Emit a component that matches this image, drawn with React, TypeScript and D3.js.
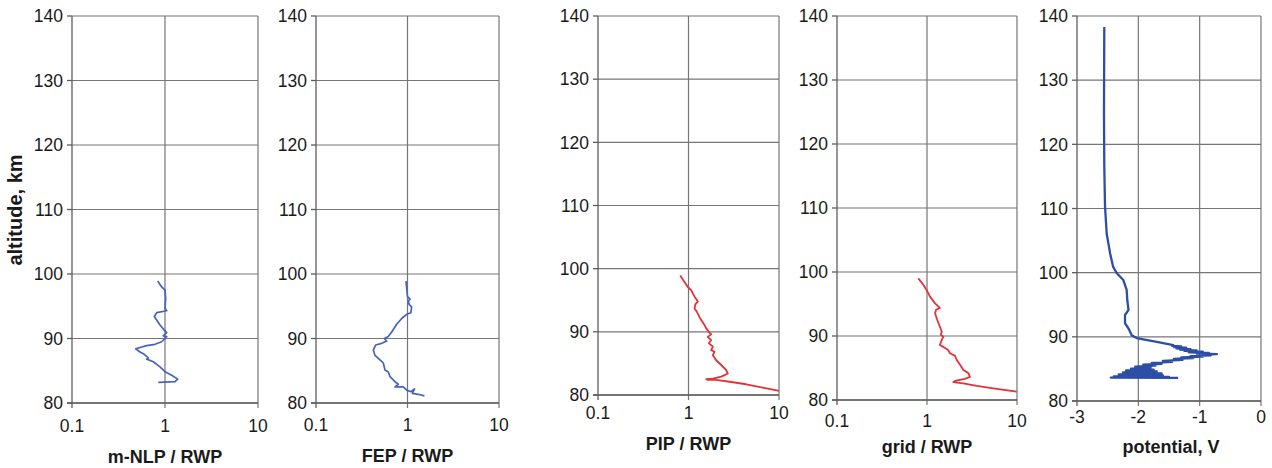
import React from "react";
import * as d3 from "d3";

// ---------- data ----------
const altTicks = [80, 90, 100, 110, 120, 130, 140];
const logTicks = [0.1, 1, 10];
const logTickLabels = ["0.1", "1", "10"];
const potTicks = [-3, -2, -1, 0];
const potTickLabels = ["-3", "-2", "-1", "0"];

const mnlpAlt = [98.9, 98.0, 97.5, 96.2, 94.7, 94.3, 94.0, 93.4, 92.1, 91.3, 90.9, 90.4, 90.3, 89.5, 89.1, 88.9, 88.6, 88.4, 87.9, 87.55, 87.0, 86.8, 86.4, 85.6, 84.85, 84.3, 83.7, 83.3, 83.2];
const mnlpRatio = [0.835, 0.921, 1.0, 1.017, 1.0, 1.043, 0.814, 0.767, 0.884, 0.983, 1.043, 0.959, 1.043, 0.921, 0.781, 0.636, 0.539, 0.484, 0.539, 0.599, 0.662, 0.636, 0.748, 0.884, 1.0, 1.18, 1.37, 1.28, 0.847];

const fepAlt = [98.9, 97.8, 96.5, 96.1, 95.8, 95.3, 94.9, 94.0, 93.75, 93.1, 92.2, 91.0, 90.3, 90.0, 89.6, 89.25, 89.0, 88.2, 87.4, 86.7, 86.2, 85.1, 84.8, 84.1, 83.3, 82.9, 82.5, 82.5, 82.0, 81.75, 82.2, 81.5, 81.35, 81.1];
const fepRatio = [0.963, 0.98, 1.0, 1.065, 1.02, 1.04, 1.11, 1.09, 0.98, 0.864, 0.762, 0.672, 0.617, 0.558, 0.593, 0.523, 0.449, 0.423, 0.441, 0.5, 0.544, 0.568, 0.617, 0.644, 0.73, 0.794, 0.73, 0.9, 0.98, 1.09, 1.19, 1.13, 1.31, 1.53];

const pipAlt = [98.9, 97.9, 97.1, 96.6, 96.1, 95.6, 94.8, 94.4, 93.7, 93.2, 92.1, 91.1, 90.55, 90.0, 89.6, 89.2, 88.7, 88.2, 87.65, 87.1, 86.85, 86.3, 85.5, 84.75, 83.95, 83.4, 82.9, 82.6, 82.5, 82.4, 82.4, 82.1, 81.7, 81.15, 80.65];
const pipRatio = [0.81, 0.903, 0.982, 1.07, 1.116, 1.165, 1.27, 1.195, 1.165, 1.235, 1.35, 1.5, 1.57, 1.68, 1.78, 1.63, 1.78, 1.68, 1.86, 1.78, 1.94, 1.86, 2.02, 2.3, 2.61, 2.72, 2.3, 1.86, 1.57, 1.63, 2.02, 2.84, 4.34, 6.62, 10.0];

const gridAlt = [99.0, 98.0, 97.2, 96.15, 95.1, 94.4, 94.1, 93.55, 92.5, 91.45, 90.7, 90.2, 89.9, 89.4, 88.6, 88.3, 87.8, 87.3, 86.9, 86.25, 85.5, 84.7, 84.2, 83.6, 83.3, 82.97, 82.8, 82.6, 82.2, 81.8, 81.3];
const gridRatio = [0.8, 0.91, 0.99, 1.08, 1.23, 1.39, 1.26, 1.23, 1.3, 1.39, 1.46, 1.42, 1.52, 1.46, 1.39, 1.52, 1.72, 1.8, 2.05, 2.14, 2.33, 2.53, 2.88, 3.0, 2.64, 2.05, 1.96, 2.53, 3.57, 5.45, 9.9];

const potAlt = [138.3, 125, 116.5, 110.3, 106.1, 103.0, 100.9, 99.9, 98.85, 97.3, 95.7, 94.2, 93.4, 92.1, 91.3, 90.25, 89.8, 89.2, 88.7,
  88.6, 88.5, 88.4, 88.3, 88.2, 88.1, 88.0, 87.9, 87.8, 87.7, 87.6, 87.5, 87.4, 87.3, 87.2, 87.1, 87.0, 86.9, 86.8, 86.7, 86.55, 86.4, 86.25, 86.1, 85.95, 85.8, 85.65, 85.5, 85.35, 85.2, 85.05, 84.9, 84.75, 84.6, 84.45, 84.3, 84.15, 84.0, 83.85, 83.75, 83.65, 83.6];
const potVolt = [-2.555, -2.56, -2.555, -2.543, -2.516, -2.46, -2.41, -2.35, -2.245, -2.19, -2.18, -2.16, -2.217, -2.217, -2.16, -2.108, -2.027, -1.7, -1.43,
  -1.45, -1.3, -1.42, -1.22, -1.38, -1.15, -1.32, -1.05, -1.25, -0.95, -1.18, -0.85, -1.05, -0.72, -1.0, -0.82, -1.15, -0.95, -1.3, -1.1, -1.42, -1.28, -1.6, -1.45, -1.78, -1.62, -1.92, -1.72, -2.05, -1.8, -2.12, -1.75, -2.2, -1.7, -2.25, -1.62, -2.32, -1.6, -2.4, -1.5, -2.45, -1.35];

// ---------- layout ----------
const FONT = "'Liberation Sans', Arial, Helvetica, sans-serif";
const BLUE = "#4565bb";
const DARKBLUE = "#2d4ea6";
const RED = "#e3333a";
const GRID = "#767676";
const AXIS = "#5e5e5e";
const TEXT = "#1a1a1a";

type Panel = {
  kind: "log" | "lin";
  left: number; right: number; top: number; bottom: number;
  tickY: number; titleY: number; title: string;
  color: string; width: number;
  alt: number[]; vals: number[];
};

const panels: Panel[] = [
  { kind: "log", left: 72, right: 258, top: 16, bottom: 403, tickY: 432, titleY: 463, title: "m-NLP / RWP", color: BLUE, width: 1.7, alt: mnlpAlt, vals: mnlpRatio },
  { kind: "log", left: 316, right: 499, top: 16, bottom: 403, tickY: 431, titleY: 462, title: "FEP / RWP", color: BLUE, width: 1.7, alt: fepAlt, vals: fepRatio },
  { kind: "log", left: 598, right: 779, top: 16, bottom: 395, tickY: 419, titleY: 450, title: "PIP / RWP", color: RED, width: 1.8, alt: pipAlt, vals: pipRatio },
  { kind: "log", left: 837, right: 1017, top: 16, bottom: 400, tickY: 427, titleY: 453, title: "grid / RWP", color: RED, width: 1.8, alt: gridAlt, vals: gridRatio },
  { kind: "lin", left: 1077, right: 1261, top: 16, bottom: 401, tickY: 423, titleY: 453, title: "potential, V", color: DARKBLUE, width: 2.3, alt: potAlt, vals: potVolt },
];

function PanelView({ p }: { p: Panel }) {
  const y = d3.scaleLinear().domain([80, 140]).range([p.bottom, p.top]);
  const isLog = p.kind === "log";
  const x: any = isLog
    ? d3.scaleLog().domain([0.1, 10]).range([p.left, p.right])
    : d3.scaleLinear().domain([-3, 0]).range([p.left, p.right]);
  const xt = isLog ? logTicks : potTicks;
  const xl = isLog ? logTickLabels : potTickLabels;
  const pts: [number, number][] = p.alt.map((a, i) => [p.vals[i], a]);
  const line = d3.line<[number, number]>().x((d) => x(d[0])).y((d) => y(d[1]));
  const mid = isLog ? x(1) : (p.left + p.right) / 2 + 2;
  return (
    <g>
      {altTicks.map((t) => (
        <line key={"h" + t} x1={p.left} x2={p.right} y1={y(t)} y2={y(t)} stroke={GRID} strokeWidth={1.2} />
      ))}
      {xt.map((t, i) => (i === 0 ? null : (
        <line key={"v" + t} x1={x(t)} x2={x(t)} y1={p.top} y2={p.bottom + 5} stroke={GRID} strokeWidth={1.2} />
      )))}
      <line x1={p.left} x2={p.left} y1={p.top} y2={p.bottom + 5} stroke={AXIS} strokeWidth={1.3} />
      <line x1={p.left - 5} x2={p.right} y1={p.bottom} y2={p.bottom} stroke={AXIS} strokeWidth={1.3} />
      {altTicks.map((t) => (
        <line key={"lt" + t} x1={p.left - 5} x2={p.left} y1={y(t)} y2={y(t)} stroke={AXIS} strokeWidth={1.3} />
      ))}
      {altTicks.map((t) => (
        <text key={"yl" + t} x={p.left - 9} y={y(t)} dy="0.36em" textAnchor="end" fontSize={17.5} fill={TEXT} fontFamily={FONT}>{t}</text>
      ))}
      {xt.map((t, i) => (
        <text key={"xl" + t} x={x(t)} y={p.tickY} textAnchor="middle" fontSize={17.5} fill={TEXT} fontFamily={FONT}>{xl[i]}</text>
      ))}
      <text x={mid} y={p.titleY} textAnchor="middle" fontSize={18} fontWeight="bold" fill={TEXT} fontFamily={FONT}>{p.title}</text>
      <path d={line(pts) || ""} fill="none" stroke={p.color} strokeWidth={p.width} strokeLinejoin="round" />
    </g>
  );
}

export default function App() {
  return (
    <div style={{ position: "absolute", left: 0, top: 0 }}>
      <svg width={1272} height={468} style={{ display: "block", background: "#fff" }}>
        <rect x={0} y={0} width={1272} height={468} fill="#fff" />
        {panels.map((p, i) => <PanelView key={i} p={p} />)}
        <text transform="translate(22,210) rotate(-90)" textAnchor="middle" fontSize={20} fontWeight="bold" fill={TEXT} fontFamily={FONT}>altitude, km</text>
      </svg>
    </div>
  );
}
